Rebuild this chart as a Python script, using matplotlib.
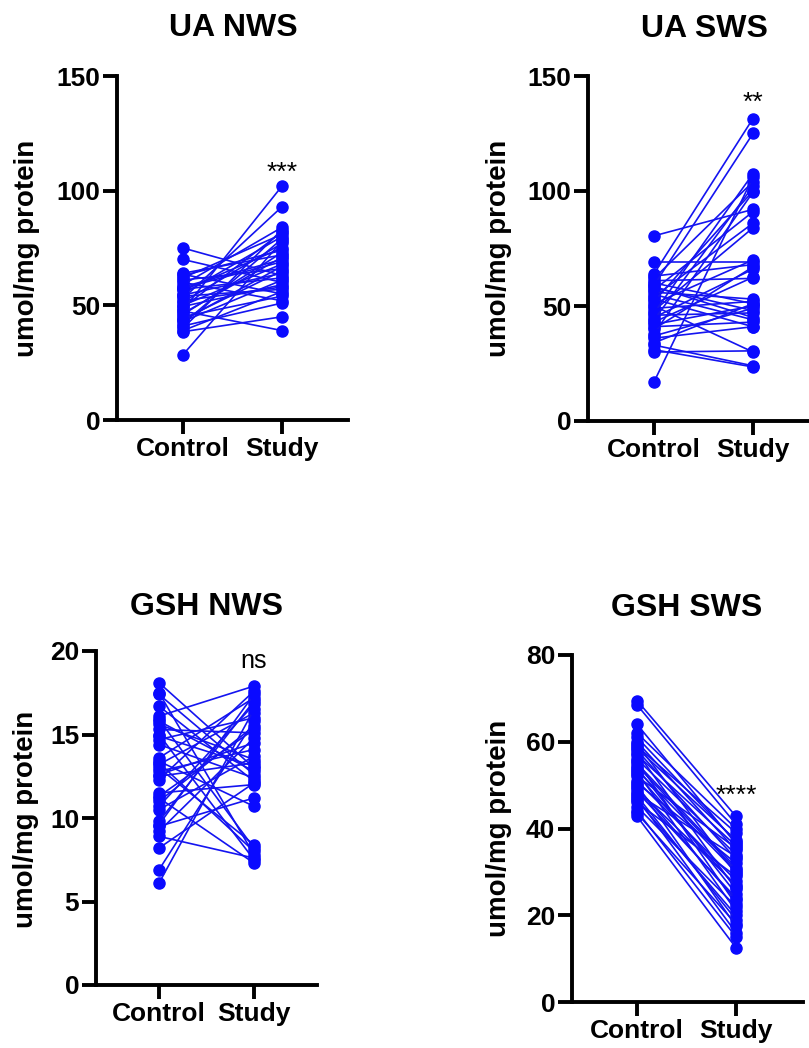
import matplotlib
matplotlib.use("Agg")
import matplotlib.pyplot as plt

plt.rcParams['font.family'] = ['Liberation Sans', 'DejaVu Sans']

groups = ["Control", "Study"]

ua_nws_control = [75, 70, 64, 63.5, 62, 61, 60, 59, 58, 57, 56.5, 55, 54, 53, 52, 51.5, 50, 49,
                  48, 47.5, 46, 45, 44, 43, 42, 41, 40, 39, 38.5, 28.5, 63, 57.5, 54.5, 49.5, 46.5, 43.5]
ua_nws_study = [63, 60, 72, 55, 81, 66, 52, 84, 70, 62, 75, 80, 57, 93, 58, 77, 68, 82,
                102, 39, 73, 54, 65, 61, 79, 51, 83, 56, 45, 78, 74, 69, 64, 59, 71, 67]

ua_sws_control = [80.5, 69, 64, 63, 62, 61, 60, 59, 58, 57, 56, 55, 54, 53, 52, 51, 50, 49,
                  48, 47, 46, 45, 44, 42, 41, 40, 38, 37, 36, 34, 33, 31, 30, 17, 58.5, 43]
ua_sws_study = [92, 69, 131.5, 68, 104, 62, 51, 125, 48, 91, 53, 44, 86, 41, 100, 70, 30, 52,
                84, 107.5, 47, 66, 102, 50, 43, 67, 99.5, 49, 41, 51, 24, 23.5, 30.5, 106, 45, 62.5]

gsh_nws_control = [18.1, 17.5, 17.4, 16.7, 16.1, 15.9, 15.6, 15.3, 15.0, 14.7, 14.4, 13.6, 13.4,
                   13.2, 13.0, 12.8, 12.5, 12.3, 11.5, 11.2, 11.0, 10.7, 10.5, 9.8, 9.5, 9.2, 8.9,
                   8.2, 6.9, 6.1, 15.8, 14.9, 13.3, 12.6, 11.3, 9.6]
gsh_nws_study = [13.0, 7.8, 12.6, 12.2, 17.9, 8.2, 13.5, 15.1, 7.5, 16.0, 12.4, 17.2, 10.7,
                 16.3, 8.4, 14.1, 13.3, 17.6, 12.0, 7.3, 15.5, 16.8, 13.7, 17.0, 11.2, 14.8, 7.6,
                 12.1, 15.8, 16.5, 12.8, 13.1, 8.0, 14.5, 15.3, 17.4]

gsh_sws_control = [69.5, 68.5, 64, 62, 61, 60, 59.5, 59, 58, 57.5, 57, 56, 55.5, 55, 54, 53.5,
                   53, 52, 51, 50.5, 50, 49, 48.5, 48, 47, 46.5, 46, 45, 44, 42.8, 58.5, 54.5,
                   52.5, 49.5, 47.5, 43.5]
gsh_sws_study = [42.8, 41, 36.5, 40, 37, 35, 29.5, 39, 33, 26, 36, 34, 22.5, 31, 25, 30, 21,
                 35.5, 28, 32, 17.5, 27, 24, 33.5, 16, 20, 29, 22, 15, 12.5, 37.3, 30.5, 26.5,
                 23.5, 19, 18]

titles = ["UA NWS", "UA SWS", "GSH NWS", "GSH SWS"]
signif = ["***", "**", "ns", "****"]
yticks = [[0, 50, 100, 150], [0, 50, 100, 150], [0, 5, 10, 15, 20], [0, 20, 40, 60, 80]]
ylims = [(0, 150), (0, 150), (0, 20), (0, 80)]
ylabel = "umol/mg protein"

W, H = 809, 1048
fig = plt.figure(figsize=(W / 100, H / 100), dpi=100)

def px_axes(left, right, top, bottom):
    return fig.add_axes([left / W, 1 - bottom / H, (right - left) / W, (bottom - top) / H])

# pixel layout: (left, right, top, bottom, xlim_left, xlim_right)
layout = [
    (117, 348, 76, 420, -0.667, 1.667),
    (588, 809, 76, 421, -0.667, 1.566),
    (96, 317, 651, 985, -0.663, 1.663),
    (572, 803, 655, 1002, -0.657, 1.677),
]
title_pos = [(233, 28), (704, 29), (207, 607), (687, 608)]
ylabel_pos = [(27, 248), (499, 248), (26, 819), (499, 828)]
sig_pos = [(282, 180), (753, 110), (254, 668), (736, 803)]

data = [(ua_nws_control, ua_nws_study), (ua_sws_control, ua_sws_study),
        (gsh_nws_control, gsh_nws_study), (gsh_sws_control, gsh_sws_study)]

blue = "#1414f0"
for i, (ctrl, stud) in enumerate(data):
    l, r, t, b, xl, xr = layout[i]
    ax = px_axes(l, r, t, b)
    for c, s in zip(ctrl, stud):
        ax.plot([0, 1], [c, s], color=blue, lw=1.2, marker='o', ms=8,
                mfc="#0a0aff", mec="#0a0aff", clip_on=False)
    ax.set_xlim(xl, xr)
    ax.set_ylim(*ylims[i])
    ax.set_yticks(yticks[i])
    ax.set_xticks([0, 1])
    ax.set_xticklabels(groups)
    for sp in ['top', 'right']:
        ax.spines[sp].set_visible(False)
    for sp in ['left', 'bottom']:
        ax.spines[sp].set_linewidth(2.8)
    ax.tick_params(axis='both', direction='out', length=10, width=2.8,
                   labelsize=19, pad=2)
    for lab in ax.get_xticklabels() + ax.get_yticklabels():
        lab.set_fontweight('bold')
    tx, ty = title_pos[i]
    fig.text(tx / W, 1 - ty / H, titles[i], ha='center', va='center',
             fontsize=23, fontweight='bold')
    yx, yy = ylabel_pos[i]
    fig.text(yx / W, 1 - yy / H, ylabel, rotation=90, ha='center', va='center',
             fontsize=20, fontweight='bold')
    sx, sy = sig_pos[i]
    fig.text(sx / W, 1 - sy / H, signif[i], ha='center', va='baseline',
             fontsize=18 if signif[i] == 'ns' else 19)

fig.savefig("out.png", dpi=100)
